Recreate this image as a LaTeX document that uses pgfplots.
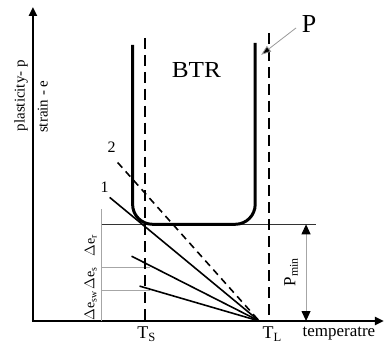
\documentclass[border=0pt]{standalone}
\usepackage{pgfplots}
\pgfplotsset{compat=1.18}
\usetikzlibrary{arrows.meta}
\usepackage{fontspec}
\setmainfont{Liberation Serif}
\begin{document}
\begin{tikzpicture}
\begin{axis}[
  width=385pt, height=345pt, scale only axis,
  xmin=0, xmax=385, ymin=0, ymax=345,
  hide axis, clip=false,
]
\path (axis cs:0,0) rectangle (axis cs:385,345);
% axes
\addplot[black, line width=2.4pt, -{Triangle[length=9pt,width=8pt]}] coordinates {(33,23) (33,338)};
\addplot[black, line width=2.4pt, -{Triangle[length=9pt,width=8pt]}] coordinates {(32,23) (385,23)};
% gray guide lines
\addplot[gray!70, line width=1pt] coordinates {(102,135) (102,23)};
\addplot[gray!70, line width=1pt] coordinates {(102,77) (150,77)};
\addplot[gray!70, line width=1pt] coordinates {(102,54) (150,54)};
% horizontal p_min line
\addplot[black!80, line width=1.3pt] coordinates {(102,120) (317,120)};
% BTR curve
\addplot[black, line width=3pt, rounded corners=20pt] coordinates {(133,300) (133,120) (256,120) (256,302)};
% Ts and TL dashed
\addplot[black, line width=2pt, dash pattern=on 11pt off 6pt] coordinates {(145,307) (145,23)};
\addplot[black, line width=2pt, dash pattern=on 11pt off 6pt] coordinates {(270,312) (270,23)};
% strain lines
\addplot[black, line width=1.6pt] coordinates {(110,147) (260,23)};
\addplot[black, line width=1.6pt, dash pattern=on 7pt off 5pt] coordinates {(118,182) (260,23)};
\addplot[black, line width=1.6pt] coordinates {(132,88) (260,23)};
\addplot[black, line width=1.6pt] coordinates {(140,58) (260,23)};
% P arrow
\addplot[gray!80, line width=0.8pt, -{Triangle[length=10pt,width=7pt,fill=black]}] coordinates {(297,317) (262,290)};
% P_min double arrow
\addplot[gray!70, line width=1pt, {Triangle[length=10pt,width=9pt,fill=black,color=black]}-{Triangle[length=10pt,width=9pt,fill=black,color=black]}] coordinates {(307,120) (307,23)};
% labels
\node[font=\fontsize{23}{23}\selectfont, xscale=1.1] at (axis cs:197,275) {BTR};
\node[font=\fontsize{26}{26}\selectfont] at (axis cs:310,321) {P};
\node[font=\fontsize{16}{16}\selectfont] at (axis cs:112,197) {2};
\node[font=\fontsize{16}{16}\selectfont] at (axis cs:105,157) {1};
\node[font=\fontsize{15}{15}\selectfont, rotate=90] at (axis cs:21,249) {plasticity- p};
\node[font=\fontsize{15}{15}\selectfont, rotate=90] at (axis cs:43,238) {strain - e};
\node[font=\fontsize{14}{14}\selectfont, rotate=90] at (axis cs:91,99) {$\Delta$e$_\mathrm{r}$};
\node[font=\fontsize{14}{14}\selectfont, rotate=90] at (axis cs:91,66) {$\Delta$e$_\mathrm{s}$};
\node[font=\fontsize{14}{14}\selectfont, rotate=90] at (axis cs:91,38) {$\Delta$e$_\mathrm{sw}$};
\node[font=\fontsize{17}{17}\selectfont, rotate=90] at (axis cs:292,72) {P$_\mathrm{min}$};
\node[font=\fontsize{18}{18}\selectfont] at (axis cs:147,10) {T$_\mathrm{S}$};
\node[font=\fontsize{18}{18}\selectfont] at (axis cs:273,10) {T$_\mathrm{L}$};
\node[font=\fontsize{17}{17}\selectfont] at (axis cs:340,10) {temperatre};
\end{axis}
\end{tikzpicture}
\end{document}
